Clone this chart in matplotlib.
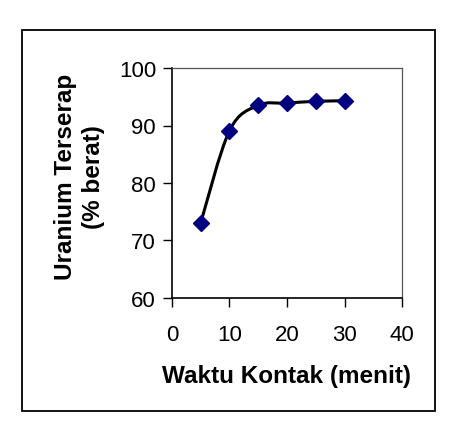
import numpy as np
import matplotlib
matplotlib.use("Agg")
import matplotlib.pyplot as plt
from matplotlib.path import Path
from matplotlib.patches import PathPatch, Rectangle

plt.rcParams['font.family'] = ['Liberation Sans', 'DejaVu Sans']

# -----------------------------
# Data
# -----------------------------
waktu = [5, 10, 15, 20, 25, 30]
uranium = [73.1, 89.1, 93.5, 93.9, 94.2, 94.3]

x_ticks = [0, 10, 20, 30, 40]
y_ticks = [60, 70, 80, 90, 100]

# -----------------------------
# Figure
# -----------------------------
fig = plt.figure(figsize=(4.6, 4.27), dpi=100)
ax = fig.add_axes([172/460, 1 - 299/427, 230/460, 230/427])

# outer chart frame
fig.patches.append(Rectangle((22/460, 1 - 412/427), (435-22)/460, (412-30.5)/427,
                             transform=fig.transFigure, fill=False,
                             edgecolor='black', linewidth=1.3))

# smoothed line (excel-style bezier through the points)
pts = np.column_stack([waktu, uranium])
ext = np.vstack([pts[0], pts, pts[-1]])
verts = [tuple(pts[0])]
codes = [Path.MOVETO]
for i in range(len(pts) - 1):
    p0, p1, p2, p3 = ext[i], ext[i+1], ext[i+2], ext[i+3]
    c1 = p1 + (p2 - p0) / 6
    c2 = p2 - (p3 - p1) / 6
    verts += [tuple(c1), tuple(c2), tuple(p2)]
    codes += [Path.CURVE4] * 3
ax.add_patch(PathPatch(Path(verts, codes), fill=False, edgecolor='black',
                       linewidth=2.2, zorder=2))

ax.plot(waktu, uranium, linestyle='none', marker='D', markersize=8,
        color='#000080', zorder=3)

ax.set_xlim(0, 40)
ax.set_ylim(60, 100)
ax.set_xticks(x_ticks)
ax.set_yticks(y_ticks)
ax.tick_params(direction='out', length=6.5, width=1, labelsize=16, color='black')
ax.tick_params(axis='x', pad=12)
ax.tick_params(axis='y', pad=5)

for s in ['left', 'bottom']:
    ax.spines[s].set_linewidth(1.2)
    ax.spines[s].set_color('black')
for s in ['top', 'right']:
    ax.spines[s].set_linewidth(0.9)
    ax.spines[s].set_color('#555555')

ax.set_xlabel("Waktu Kontak (menit)", fontsize=17.5, fontweight='bold', labelpad=14)
ax.set_ylabel("Uranium Terserap\n(% berat)", fontsize=17.5, fontweight='bold',
              linespacing=1.3)
ax.yaxis.set_label_coords(-0.29, 0.53)

fig.savefig("out.png", dpi=100)
